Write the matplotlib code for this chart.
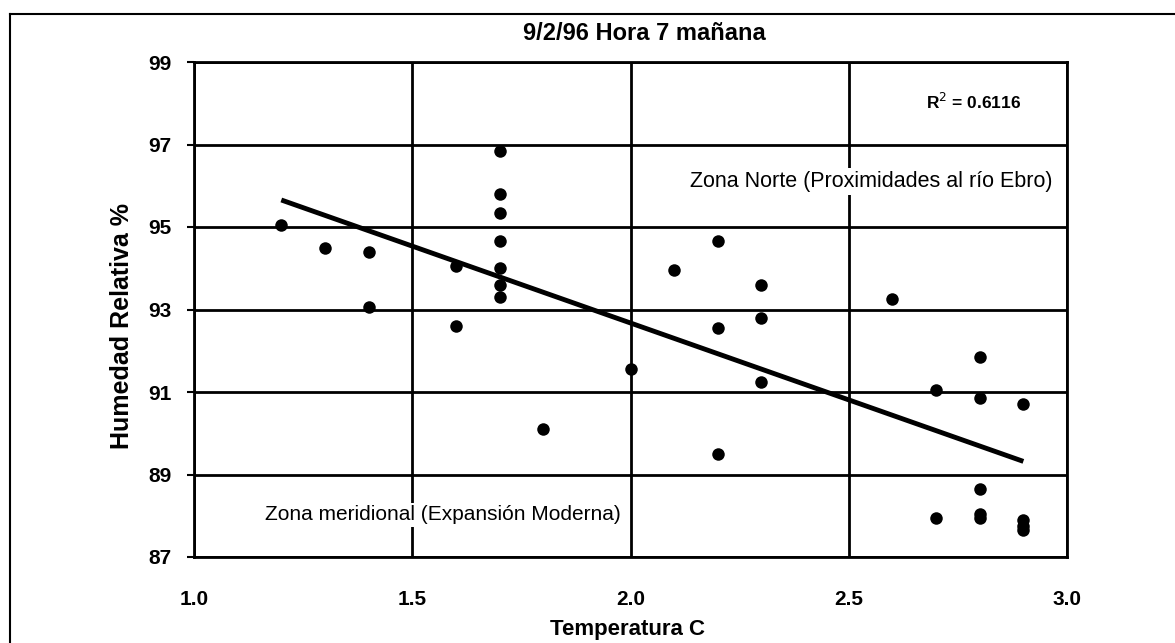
import numpy as np
import matplotlib
matplotlib.use("Agg")
import matplotlib.pyplot as plt
from matplotlib.lines import Line2D

plt.rcParams['font.family'] = ['Liberation Sans', 'DejaVu Sans']

# Data
temperatura = [1.2, 1.3, 1.4, 1.4, 1.6, 1.6,
               1.7, 1.7, 1.7, 1.7, 1.7, 1.7, 1.7,
               1.8, 2.0, 2.1, 2.2, 2.2, 2.2,
               2.3, 2.3, 2.3, 2.6, 2.7, 2.7,
               2.8, 2.8, 2.8, 2.8, 2.8,
               2.9, 2.9, 2.9, 2.9]
humedad = [95.05, 94.5, 94.4, 93.05, 94.05, 92.6,
           96.85, 95.8, 95.35, 94.65, 94.0, 93.6, 93.3,
           90.1, 91.55, 93.95, 94.65, 92.55, 89.5,
           93.6, 92.8, 91.25, 93.25, 91.05, 87.95,
           91.85, 90.85, 88.65, 88.05, 87.95,
           90.7, 87.9, 87.75, 87.65]

x_ticks = [1.0, 1.5, 2.0, 2.5, 3.0]
y_ticks = [87, 89, 91, 93, 95, 97, 99]
r2_text = "R$^2$ = 0.6116"

W, H = 1175, 643
fig = plt.figure(figsize=(W/100, H/100), dpi=100)
L, R, T, B = 194, 1067, 62, 557
ax = fig.add_axes([L/W, 1-B/H, (R-L)/W, (B-T)/H])

x = np.array(temperatura)
y = np.array(humedad)
slope, intercept = np.polyfit(x, y, 1)
xf = np.array([x.min(), x.max()])
ax.plot(xf, slope*xf + intercept, color='black', lw=3.5, zorder=3, solid_capstyle='butt')
ax.plot(x, y, 'o', color='black', ms=9, mec='none', zorder=4)

ax.set_xlim(1.0, 3.0)
ax.set_ylim(87, 99)
ax.set_xticks(x_ticks)
ax.set_xticklabels([f"{v:.1f}" for v in x_ticks])
ax.set_yticks(y_ticks)
ax.set_yticklabels([str(v) for v in y_ticks])
ax.grid(True, color='black', lw=2)
ax.set_axisbelow(True)
for s in ax.spines.values():
    s.set_linewidth(2)
ax.tick_params(axis='x', length=0, labelsize=15, pad=24)
ax.tick_params(axis='y', length=5, width=1.5, direction='out', labelsize=15, pad=11)
for lab in ax.get_xticklabels() + ax.get_yticklabels():
    lab.set_fontweight('bold')

fig.text(627/W, 1-630/H, "Temperatura C", ha='center', va='center',
         fontsize=16, fontweight='bold')
fig.text(122/W, 1-326/H, "Humedad Relativa %", ha='center', va='center',
         rotation=90, fontsize=18, fontweight='bold')
fig.text(644/W, 1-34/H, "9/2/96 Hora 7 mañana", ha='center', va='center',
         fontsize=17, fontweight='bold')

ax.text(0.948, 0.919, r2_text, transform=ax.transAxes, ha='right', va='center',
        fontsize=12.5, fontweight='bold')
ax.text(0.983, 0.758, "Zona Norte (Proximidades al río Ebro)", transform=ax.transAxes,
        ha='right', va='center', fontsize=15.5, bbox=dict(fc='white', ec='none', pad=2))
ax.text(0.081, 0.085, "Zona meridional (Expansión Moderna)", transform=ax.transAxes,
        ha='left', va='center', fontsize=15, bbox=dict(fc='white', ec='none', pad=2))

# outer frame (top and left edges)
fig.add_artist(Line2D([10/W, 1.0], [1-14/H, 1-14/H], transform=fig.transFigure,
                      color='black', lw=1.5))
fig.add_artist(Line2D([10/W, 10/W], [0.0, 1-14/H], transform=fig.transFigure,
                      color='black', lw=1.5))

fig.savefig("out.png", dpi=100)
